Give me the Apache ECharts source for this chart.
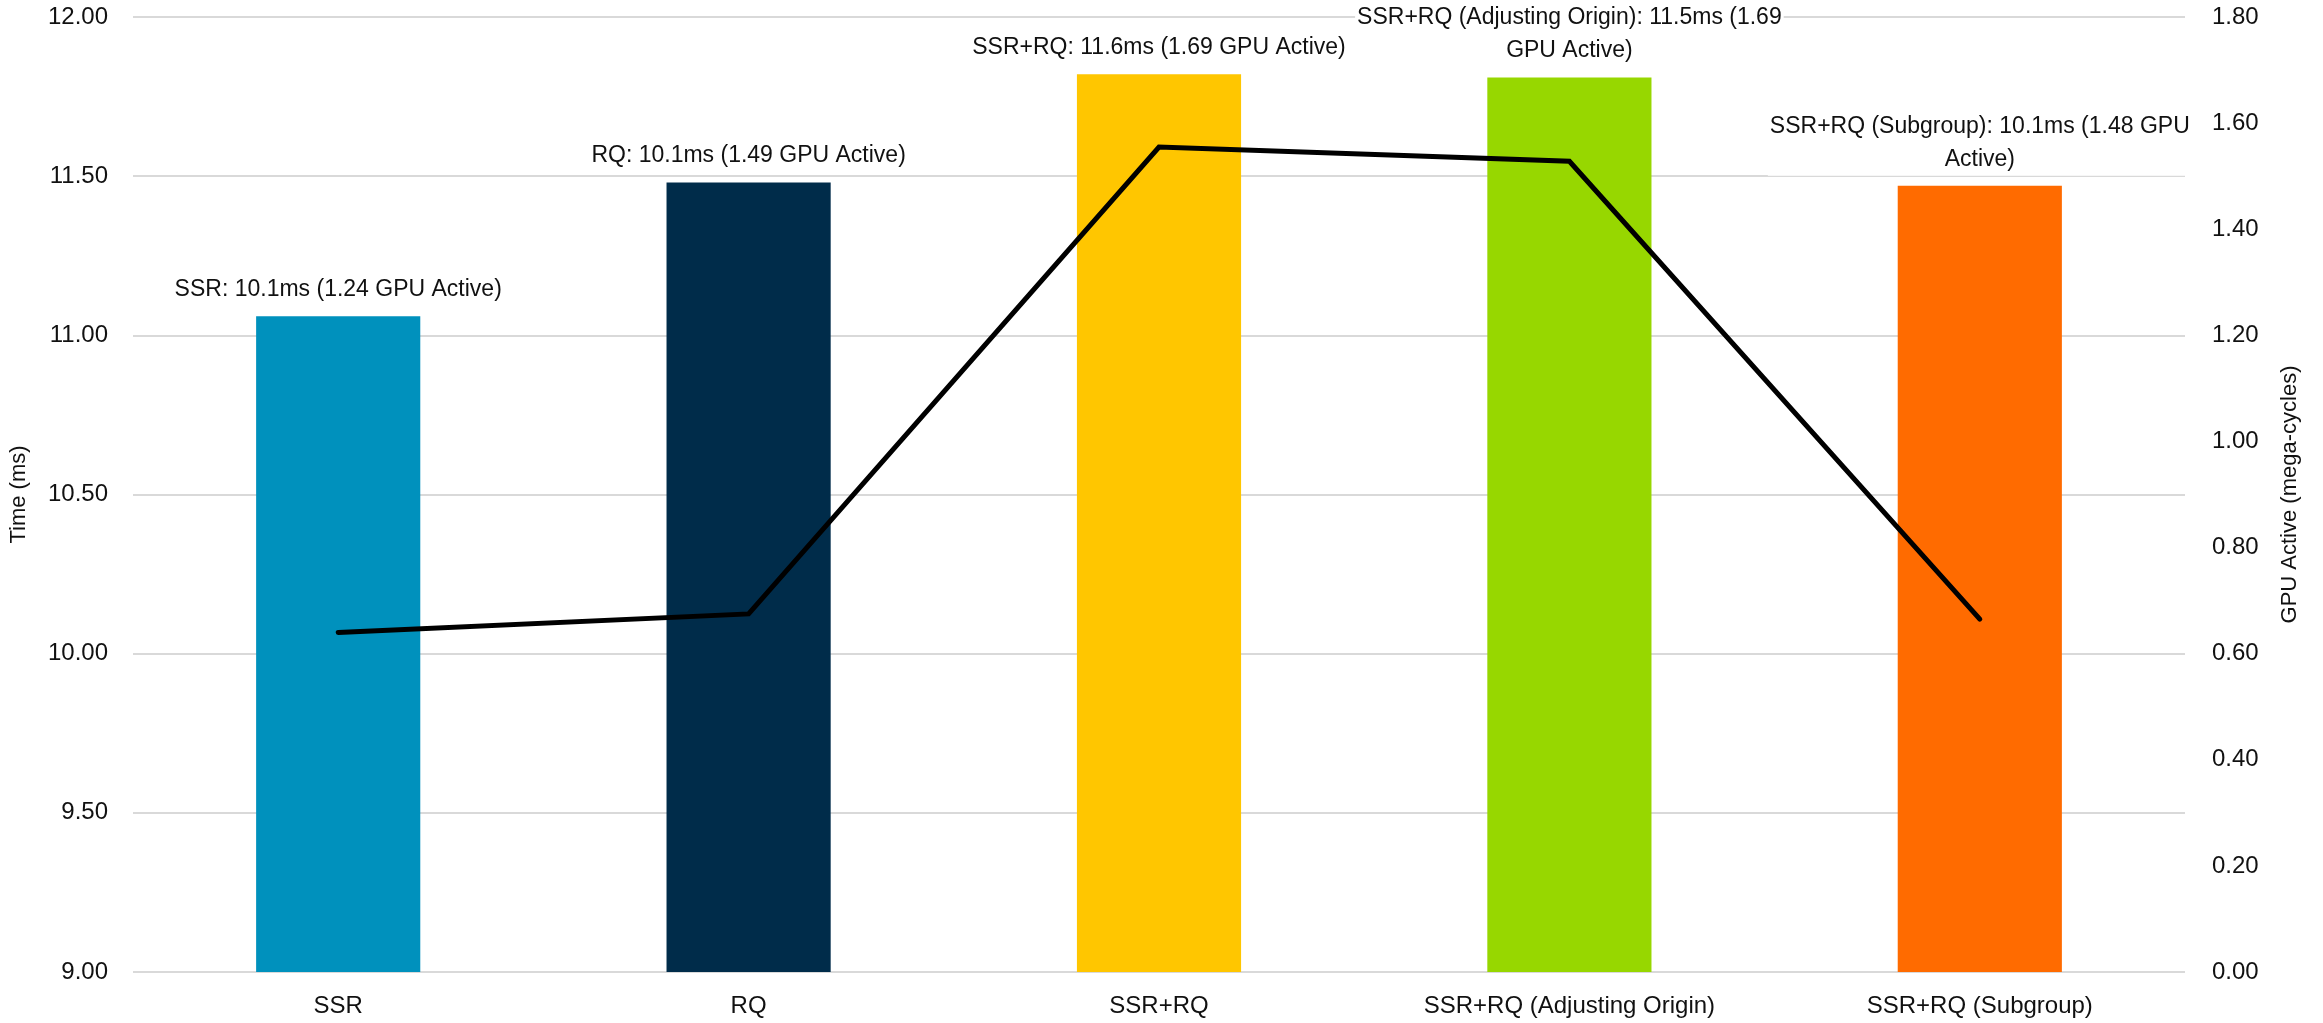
<!DOCTYPE html>
<html lang="en">
<head>
    <meta charset="UTF-8">
    <title>SSR / RQ timings</title>
    <script src="https://cdn.jsdelivr.net/npm/echarts@6/dist/echarts.min.js"></script>
    <style>
        * { padding: 0; margin: 0; }
        body { background: #fff; }
    </style>
</head>
<body>
<div id="chart" style="width: 2323px; height: 1023px;"></div>
<script>
    // data
    var categories = ['SSR', 'RQ', 'SSR+RQ', 'SSR+RQ (Adjusting Origin)', 'SSR+RQ (Subgroup)'];
    var timeMs = [11.06, 11.48, 11.82, 11.81, 11.47];
    var gpuActive = [0.64, 0.675, 1.555, 1.528, 0.665];
    var barLabels = [
        'SSR: 10.1ms (1.24 GPU Active)',
        'RQ: 10.1ms (1.49 GPU Active)',
        'SSR+RQ: 11.6ms (1.69 GPU Active)',
        'SSR+RQ (Adjusting Origin): 11.5ms (1.69\nGPU Active)',
        'SSR+RQ (Subgroup): 10.1ms (1.48 GPU\nActive)'
    ];
    var barColors = ['#0091BD', '#002C4A', '#FFC600', '#97D700', '#FF6B00'];

    var font = "'Liberation Sans', sans-serif";
    var textColor = '#111';

    var chart = echarts.init(document.getElementById('chart'));
    var option = {
        backgroundColor: '#fff',
        animation: false,
        textStyle: { fontFamily: font },
        grid: { left: 133, right: 138, top: 17, bottom: 51 },
        xAxis: {
            type: 'category',
            data: categories,
            axisLine: { show: false },
            axisTick: { show: false },
            axisLabel: { fontSize: 24, color: textColor, margin: 22, fontFamily: font }
        },
        yAxis: [{
            type: 'value',
            min: 9,
            max: 12,
            interval: 0.5,
            name: 'Time (ms)',
            nameLocation: 'middle',
            nameRotate: 90,
            nameGap: 103,
            nameTextStyle: { fontSize: 22, color: textColor, fontFamily: font },
            axisLine: { show: false },
            axisTick: { show: false },
            axisLabel: { fontSize: 24, color: textColor, margin: 25, fontFamily: font,
                formatter: function (v) { return v.toFixed(2); } },
            splitLine: { lineStyle: { color: '#D9D9D9', width: 2 } }
        }, {
            type: 'value',
            min: 0,
            max: 1.8,
            interval: 0.2,
            name: 'GPU Active (mega-cycles)',
            nameLocation: 'middle',
            nameRotate: 90,
            nameGap: 94,
            nameTextStyle: { fontSize: 22, color: textColor, fontFamily: font },
            axisLine: { show: false },
            axisTick: { show: false },
            axisLabel: { fontSize: 24, color: textColor, margin: 27, fontFamily: font,
                formatter: function (v) { return v.toFixed(2); } },
            splitLine: { show: false }
        }],
        series: [{
            name: 'Time',
            type: 'bar',
            yAxisIndex: 0,
            barCategoryGap: '60%',
            data: timeMs.map(function (v, i) {
                return { value: v, itemStyle: { color: barColors[i] } };
            }),
            label: {
                show: true,
                position: 'top',
                distance: 10,
                fontSize: 23,
                lineHeight: 33,
                color: textColor,
                fontFamily: font,
                align: 'center',
                backgroundColor: '#fff',
                padding: [0, 2],
                formatter: function (p) { return barLabels[p.dataIndex]; }
            }
        }, {
            name: 'GPU Active',
            type: 'line',
            yAxisIndex: 1,
            data: gpuActive,
            showSymbol: false,
            symbol: 'none',
            z: 5,
            lineStyle: { color: '#000', width: 5, cap: 'round', join: 'miter' }
        }]
    };
    chart.setOption(option);
</script>
</body>
</html>
